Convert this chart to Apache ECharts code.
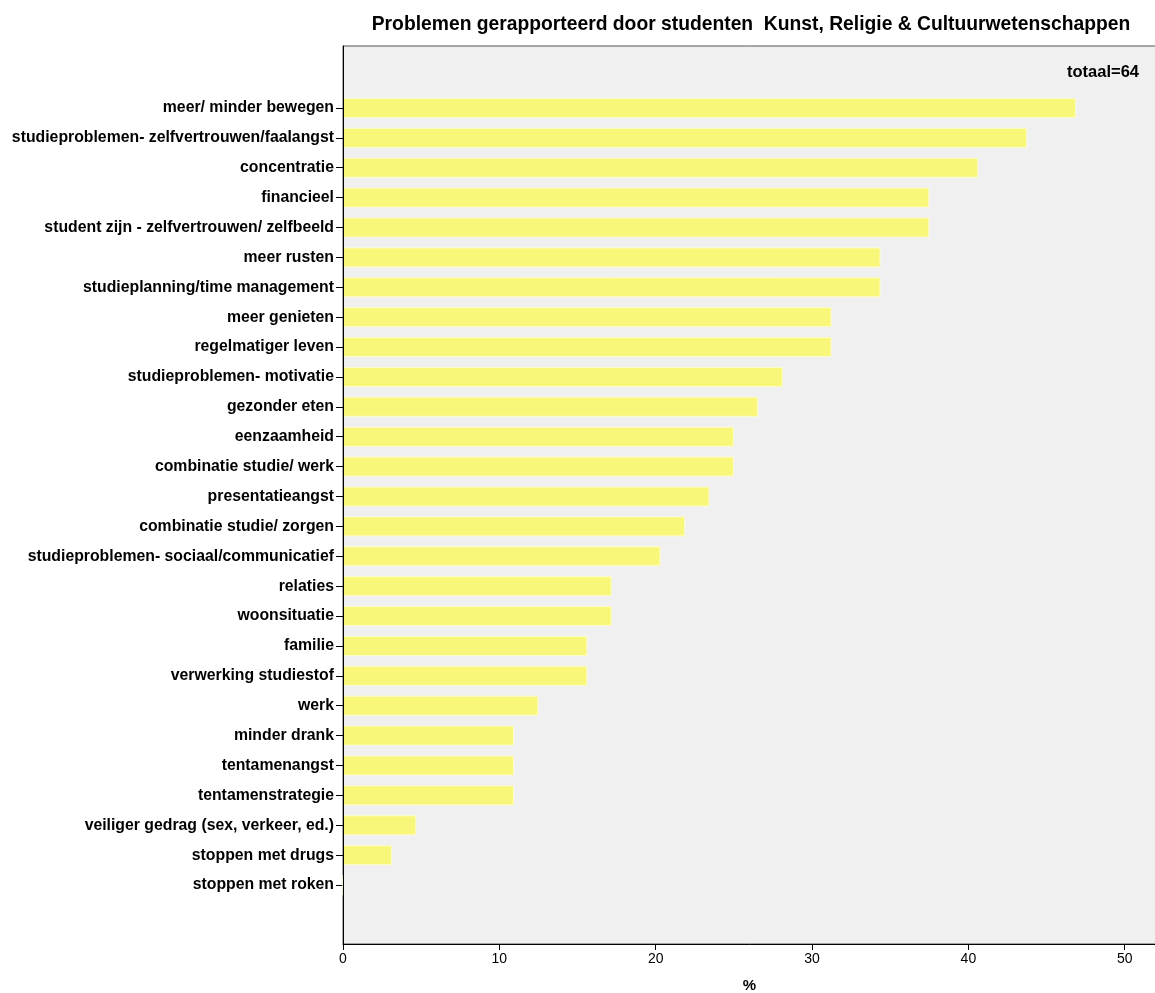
<!DOCTYPE html>
<html>
<head>
<meta charset="utf-8">
<script src="https://cdn.jsdelivr.net/npm/echarts@6/dist/echarts.min.js"></script>
<style>
html,body{margin:0;padding:0;background:#fff;overflow:hidden;}
#c{width:1155px;height:993px;}
</style>
</head>
<body>
<div id="c"></div>
<script>
const titleText = 'Problemen gerapporteerd door studenten  Kunst, Religie & Cultuurwetenschappen';
const totalLabel = 'totaal=64';
const axisName = '%';
const categories = [
  'meer/ minder bewegen',
  'studieproblemen- zelfvertrouwen/faalangst',
  'concentratie',
  'financieel',
  'student zijn - zelfvertrouwen/ zelfbeeld',
  'meer rusten',
  'studieplanning/time management',
  'meer genieten',
  'regelmatiger leven',
  'studieproblemen- motivatie',
  'gezonder eten',
  'eenzaamheid',
  'combinatie studie/ werk',
  'presentatieangst',
  'combinatie studie/ zorgen',
  'studieproblemen- sociaal/communicatief',
  'relaties',
  'woonsituatie',
  'familie',
  'verwerking studiestof',
  'werk',
  'minder drank',
  'tentamenangst',
  'tentamenstrategie',
  'veiliger gedrag (sex, verkeer, ed.)',
  'stoppen met drugs',
  'stoppen met roken'
];
const values = [46.88, 43.75, 40.63, 37.5, 37.5, 34.38, 34.38, 31.25, 31.25, 28.13, 26.56, 25, 25, 23.44, 21.88, 20.31, 17.19, 17.19, 15.63, 15.63, 12.5, 10.94, 10.94, 10.94, 4.69, 3.13, 0];
const xMin = 0, xMax = 52, xStep = 10;

const chart = echarts.init(document.getElementById('c'), null, {renderer: 'canvas'});
const font = 'Liberation Sans, Arial, sans-serif';
chart.setOption({
  animation: false,
  backgroundColor: '#ffffff',
  title: {
    text: titleText,
    left: 746, top: 10, textAlign: 'center',
    textStyle: {fontFamily: font, fontSize: 19.3, fontWeight: 'bold', color: '#000'}
  },
  graphic: [{
    type: 'text', right: 16, top: 64,
    style: {text: totalLabel, font: 'bold 16.5px Liberation Sans, Arial, sans-serif', fill: '#000'}
  }],
  grid: [
    {left: 343, right: -1, top: 46, bottom: 49, show: true, backgroundColor: '#f0f0f0', borderColor: '#555', borderWidth: 1, containLabel: false, outerBoundsMode: 'none'},
    {left: 343, right: -1, top: 93, bottom: 93, containLabel: false, outerBoundsMode: 'none'}
  ],
  xAxis: [
    {gridIndex: 0, type: 'value', min: xMin, max: xMax, interval: xStep, z: 5,
     name: axisName, nameLocation: 'middle', nameGap: 34,
     nameTextStyle: {fontFamily: font, fontSize: 15, fontWeight: 'bold', color: '#000'},
     axisLine: {show: true, lineStyle: {color: '#000', width: 1}},
     axisTick: {show: true, length: 6, lineStyle: {color: '#000'}},
     axisLabel: {showMaxLabel: false, fontFamily: 'Liberation Sans Narrow, Liberation Sans, Arial, sans-serif', fontSize: 14, color: '#000', margin: 8},
     splitLine: {show: false}},
    {gridIndex: 1, type: 'value', min: xMin, max: xMax, show: false}
  ],
  yAxis: [
    {gridIndex: 0, type: 'value', show: true, z: 5, axisLine: {show: true, lineStyle: {color: '#000'}},
     axisTick: {show: false}, axisLabel: {show: false}, splitLine: {show: false}},
    {gridIndex: 1, type: 'category', data: categories, inverse: true,
     axisLine: {show: false},
     axisTick: {show: true, alignWithLabel: true, length: 7, lineStyle: {color: '#000'}},
     axisLabel: {fontFamily: font, fontSize: 15.8, fontWeight: 'bold', color: '#000', margin: 9},
     splitLine: {show: false}}
  ],
  series: [{
    type: 'bar', xAxisIndex: 1, yAxisIndex: 1,
    data: values, barWidth: 20,
    itemStyle: {color: '#f9f77a', borderColor: '#fdfcc8', borderWidth: 1}
  }]
});
</script>
</body>
</html>
